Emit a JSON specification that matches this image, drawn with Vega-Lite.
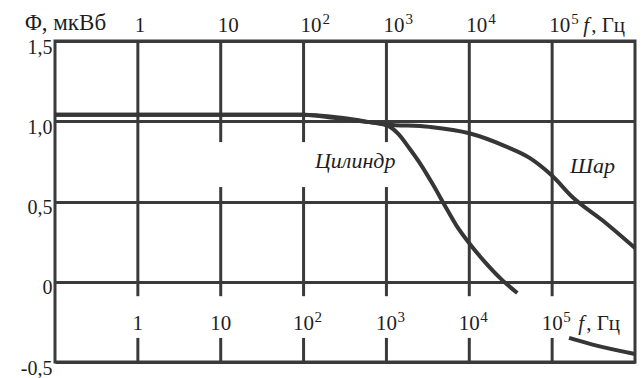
{
  "$schema": "https://vega.github.io/schema/vega-lite/v6.json",
  "width": 580,
  "height": 321,
  "autosize": {"type": "none"},
  "padding": {"left": 55, "top": 41, "right": 7, "bottom": 16},
  "background": "white",
  "config": {
    "view": {"stroke": "#3a3a3a", "strokeWidth": 3},
    "font": "Liberation Serif",
    "text": {"font": "Liberation Serif", "color": "#1e1e1e"},
    "axisY": {
      "tickCount": 4,
      "labelExpr": "datum.value == 0 ? '0' : datum.value == -0.5 ? '-0,5' : replace(format(datum.value, '.1f'), '.', ',')",
      "grid": true,
      "gridColor": "#3a3a3a",
      "gridWidth": 3,
      "gridOpacity": 1,
      "domain": false,
      "ticks": false,
      "tickSize": 0,
      "labelPadding": 3,
      "labelOffset": 6,
      "labelFontSize": 20,
      "labelFont": "Liberation Serif",
      "labelColor": "#1e1e1e",
      "labelFlush": false,
      "labelOverlap": false,
      "labelBound": false
    }
  },
  "datasets": {
    "curves": [
      {"series": "cyl", "f": 0.1, "phi": 1.04},
      {"series": "cyl", "f": 100, "phi": 1.04},
      {"series": "cyl", "f": 200, "phi": 1.025},
      {"series": "cyl", "f": 500, "phi": 1.0},
      {"series": "cyl", "f": 1000, "phi": 0.975},
      {"series": "cyl", "f": 1400, "phi": 0.92},
      {"series": "cyl", "f": 1900, "phi": 0.83},
      {"series": "cyl", "f": 2600, "phi": 0.73},
      {"series": "cyl", "f": 3600, "phi": 0.61},
      {"series": "cyl", "f": 5000, "phi": 0.48},
      {"series": "cyl", "f": 7000, "phi": 0.35},
      {"series": "cyl", "f": 10000, "phi": 0.24},
      {"series": "cyl", "f": 15000, "phi": 0.13},
      {"series": "cyl", "f": 25000, "phi": 0.01},
      {"series": "cyl", "f": 38000, "phi": -0.07},
      {"series": "sphere", "f": 0.1, "phi": 1.04},
      {"series": "sphere", "f": 100, "phi": 1.04},
      {"series": "sphere", "f": 300, "phi": 1.02},
      {"series": "sphere", "f": 1000, "phi": 0.98},
      {"series": "sphere", "f": 3300, "phi": 0.965},
      {"series": "sphere", "f": 10000, "phi": 0.925},
      {"series": "sphere", "f": 27000, "phi": 0.845},
      {"series": "sphere", "f": 54000, "phi": 0.77},
      {"series": "sphere", "f": 100000, "phi": 0.66},
      {"series": "sphere", "f": 178000, "phi": 0.525},
      {"series": "sphere", "f": 411000, "phi": 0.38},
      {"series": "sphere", "f": 1000000, "phi": 0.21},
      {"series": "sphere2", "f": 160000, "phi": -0.35},
      {"series": "sphere2", "f": 300000, "phi": -0.39},
      {"series": "sphere2", "f": 1000000, "phi": -0.45}
    ],
    "vgrid": [
      {"f": 1, "y1": 1.5, "y2": -0.09},
      {"f": 1, "y1": -0.35, "y2": -0.5},
      {"f": 10, "y1": 1.5, "y2": 0.87},
      {"f": 10, "y1": 0.59, "y2": -0.09},
      {"f": 10, "y1": -0.35, "y2": -0.5},
      {"f": 100, "y1": 1.5, "y2": 0.87},
      {"f": 100, "y1": 0.59, "y2": -0.09},
      {"f": 100, "y1": -0.35, "y2": -0.5},
      {"f": 1000, "y1": 1.5, "y2": 0.87},
      {"f": 1000, "y1": 0.59, "y2": -0.09},
      {"f": 1000, "y1": -0.35, "y2": -0.5},
      {"f": 10000, "y1": 1.5, "y2": -0.09},
      {"f": 10000, "y1": -0.35, "y2": -0.5},
      {"f": 100000, "y1": 1.5, "y2": -0.09},
      {"f": 100000, "y1": -0.35, "y2": -0.5}
    ],
    "xtop": [
      {"f": 1, "phi": 1.556, "base": "1", "exp": ""},
      {"f": 10, "phi": 1.556, "base": "10", "exp": ""},
      {"f": 100, "phi": 1.556, "base": "10", "exp": "2"},
      {"f": 1000, "phi": 1.556, "base": "10", "exp": "3"},
      {"f": 10000, "phi": 1.556, "base": "10", "exp": "4"},
      {"f": 100000, "phi": 1.556, "base": "10", "exp": "5"}
    ],
    "xbot": [
      {"f": 1, "phi": -0.3, "base": "1", "exp": ""},
      {"f": 10, "phi": -0.3, "base": "10", "exp": ""},
      {"f": 100, "phi": -0.3, "base": "10", "exp": "2"},
      {"f": 1000, "phi": -0.3, "base": "10", "exp": "3"},
      {"f": 10000, "phi": -0.3, "base": "10", "exp": "4"},
      {"f": 100000, "phi": -0.3, "base": "10", "exp": "5"}
    ],
    "funitTop": [
      {"f": 100000, "phi": 1.556}
    ],
    "funitBot": [
      {"f": 100000, "phi": -0.3}
    ],
    "ytitle": [
      {"f": 0.1, "phi": 1.569, "text": "Φ, мкВб"}
    ],
    "curvelabels": [
      {"f": 137, "phi": 0.706, "text": "Цилиндр"},
      {"f": 164000, "phi": 0.68, "text": "Шар"}
    ]
  },
  "layer": [
    {
      "data": {"name": "vgrid"},
      "mark": {"type": "rule", "color": "#3a3a3a", "strokeWidth": 3},
      "encoding": {
        "x": {"field": "f", "type": "quantitative", "scale": {"type": "log", "domain": [0.1, 1000000]}, "axis": null},
        "y": {"field": "y1", "type": "quantitative", "scale": {"domain": [-0.5, 1.5]}, "title": null},
        "y2": {"field": "y2"}
      }
    },
    {
      "data": {"name": "curves"},
      "mark": {"type": "line", "color": "#363636", "strokeWidth": 4, "interpolate": "monotone"},
      "encoding": {
        "x": {"field": "f", "type": "quantitative", "scale": {"type": "log", "domain": [0.1, 1000000]}, "axis": null},
        "y": {"field": "phi", "type": "quantitative", "scale": {"domain": [-0.5, 1.5]}, "title": null},
        "detail": {"field": "series", "type": "nominal"}
      }
    },
    {
      "data": {"name": "xtop"},
      "mark": {"type": "text", "font": "Liberation Serif", "fontSize": 21, "align": "left", "baseline": "alphabetic", "dx": -3},
      "encoding": {
        "x": {"field": "f", "type": "quantitative", "scale": {"type": "log", "domain": [0.1, 1000000]}, "axis": null},
        "y": {"field": "phi", "type": "quantitative", "scale": {"domain": [-0.5, 1.5]}, "title": null},
        "text": {"field": "base"}
      }
    },
    {
      "data": {"name": "xtop"},
      "mark": {"type": "text", "font": "Liberation Serif", "fontSize": 15, "align": "left", "baseline": "alphabetic", "dx": 19, "dy": -8},
      "encoding": {
        "x": {"field": "f", "type": "quantitative", "scale": {"type": "log", "domain": [0.1, 1000000]}, "axis": null},
        "y": {"field": "phi", "type": "quantitative", "scale": {"domain": [-0.5, 1.5]}, "title": null},
        "text": {"field": "exp"}
      }
    },
    {
      "data": {"name": "xbot"},
      "mark": {"type": "text", "font": "Liberation Serif", "fontSize": 21, "align": "center", "baseline": "alphabetic"},
      "encoding": {
        "x": {"field": "f", "type": "quantitative", "scale": {"type": "log", "domain": [0.1, 1000000]}, "axis": null},
        "y": {"field": "phi", "type": "quantitative", "scale": {"domain": [-0.5, 1.5]}, "title": null},
        "text": {"field": "base"}
      }
    },
    {
      "data": {"name": "xbot"},
      "mark": {"type": "text", "font": "Liberation Serif", "fontSize": 15, "align": "left", "baseline": "alphabetic", "dx": 11, "dy": -8},
      "encoding": {
        "x": {"field": "f", "type": "quantitative", "scale": {"type": "log", "domain": [0.1, 1000000]}, "axis": null},
        "y": {"field": "phi", "type": "quantitative", "scale": {"domain": [-0.5, 1.5]}, "title": null},
        "text": {"field": "exp"}
      }
    },
    {
      "data": {"name": "funitTop"},
      "mark": {"type": "text", "font": "Liberation Serif", "fontSize": 21, "fontStyle": "italic", "align": "left", "baseline": "alphabetic", "dx": 31, "text": "f"},
      "encoding": {
        "x": {"field": "f", "type": "quantitative", "scale": {"type": "log", "domain": [0.1, 1000000]}, "axis": null},
        "y": {"field": "phi", "type": "quantitative", "scale": {"domain": [-0.5, 1.5]}, "title": null}
      }
    },
    {
      "data": {"name": "funitTop"},
      "mark": {"type": "text", "font": "Liberation Serif", "fontSize": 21, "align": "left", "baseline": "alphabetic", "dx": 39, "text": ", Гц"},
      "encoding": {
        "x": {"field": "f", "type": "quantitative", "scale": {"type": "log", "domain": [0.1, 1000000]}, "axis": null},
        "y": {"field": "phi", "type": "quantitative", "scale": {"domain": [-0.5, 1.5]}, "title": null}
      }
    },
    {
      "data": {"name": "funitBot"},
      "mark": {"type": "text", "font": "Liberation Serif", "fontSize": 21, "fontStyle": "italic", "align": "left", "baseline": "alphabetic", "dx": 26, "text": "f"},
      "encoding": {
        "x": {"field": "f", "type": "quantitative", "scale": {"type": "log", "domain": [0.1, 1000000]}, "axis": null},
        "y": {"field": "phi", "type": "quantitative", "scale": {"domain": [-0.5, 1.5]}, "title": null}
      }
    },
    {
      "data": {"name": "funitBot"},
      "mark": {"type": "text", "font": "Liberation Serif", "fontSize": 21, "align": "left", "baseline": "alphabetic", "dx": 34, "text": ", Гц"},
      "encoding": {
        "x": {"field": "f", "type": "quantitative", "scale": {"type": "log", "domain": [0.1, 1000000]}, "axis": null},
        "y": {"field": "phi", "type": "quantitative", "scale": {"domain": [-0.5, 1.5]}, "title": null}
      }
    },
    {
      "data": {"name": "ytitle"},
      "mark": {"type": "text", "font": "Liberation Serif", "fontSize": 23, "align": "left", "baseline": "alphabetic", "dx": -30},
      "encoding": {
        "x": {"field": "f", "type": "quantitative", "scale": {"type": "log", "domain": [0.1, 1000000]}, "axis": null},
        "y": {"field": "phi", "type": "quantitative", "scale": {"domain": [-0.5, 1.5]}, "title": null},
        "text": {"field": "text"}
      }
    },
    {
      "data": {"name": "curvelabels"},
      "mark": {"type": "text", "font": "Liberation Serif", "fontSize": 22, "fontStyle": "italic", "align": "left", "baseline": "alphabetic"},
      "encoding": {
        "x": {"field": "f", "type": "quantitative", "scale": {"type": "log", "domain": [0.1, 1000000]}, "axis": null},
        "y": {"field": "phi", "type": "quantitative", "scale": {"domain": [-0.5, 1.5]}, "title": null},
        "text": {"field": "text"}
      }
    }
  ]
}
